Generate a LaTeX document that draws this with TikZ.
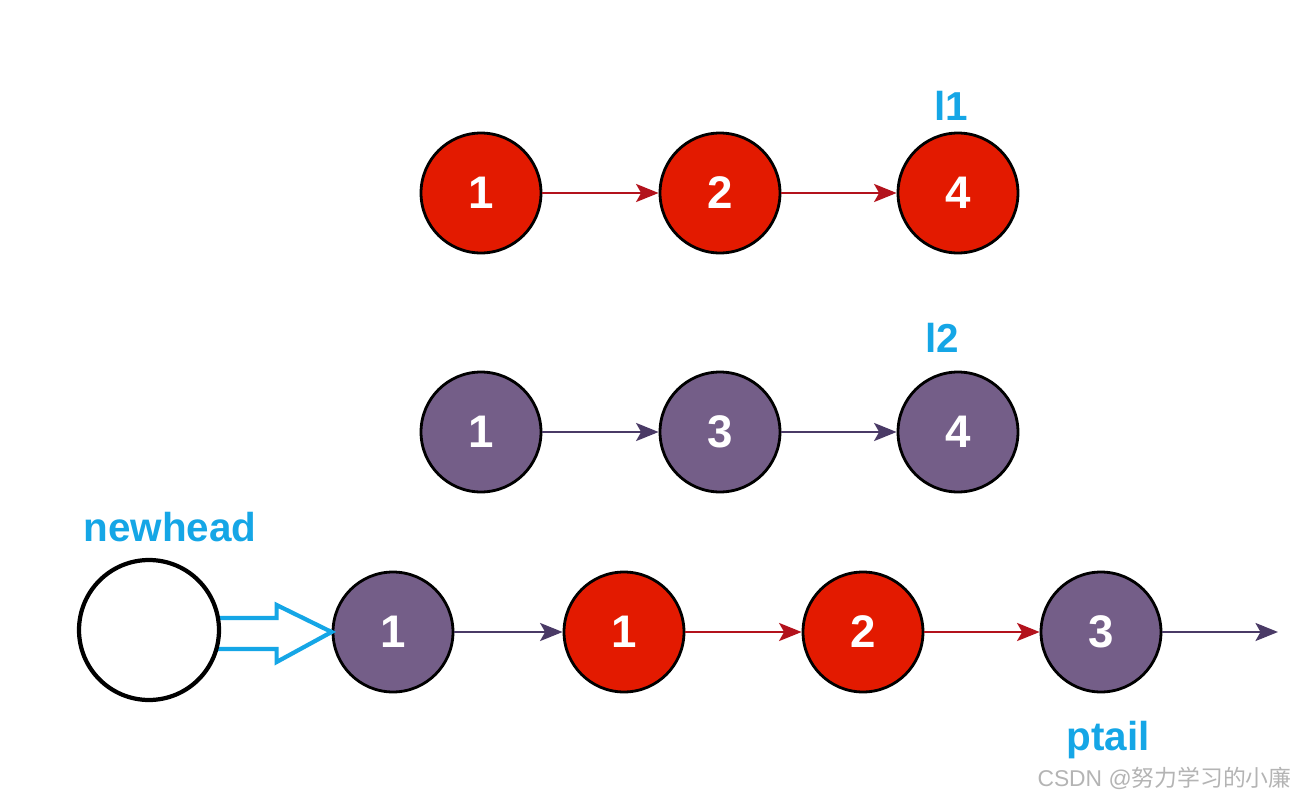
\documentclass[tikz,border=0pt]{standalone}
\usepackage{fontspec}
\setmainfont{Liberation Sans}
\newfontfamily\cjk{Noto Sans CJK SC}
\usetikzlibrary{arrows.meta, calc}
\definecolor{redfill}{HTML}{E31A00}
\definecolor{redline}{HTML}{B3121C}
\definecolor{purfill}{HTML}{745E88}
\definecolor{purline}{HTML}{4A3A66}
\definecolor{tagblue}{HTML}{15A6E6}
\definecolor{markgray}{HTML}{B4B4B4}

\begin{document}
\begin{tikzpicture}[x=0.02cm, y=-0.02cm,
  rnode/.style={circle, draw=black, line width=1.6pt, fill=redfill, minimum size=2.4cm,
                inner sep=0pt, text=white, font=\fontsize{26}{26}\selectfont\bfseries},
  pnode/.style={rnode, fill=purfill},
  empty/.style={circle, draw=black, line width=2.4pt, fill=white, minimum size=2.8cm, inner sep=0pt},
  rarr/.style={draw=redline, line width=1.5pt, -{Stealth[length=4.5mm, width=3.6mm, inset=1mm]}},
  parr/.style={rarr, draw=purline},
  hollow/.style={draw=tagblue, line width=2.4pt, fill=white, line join=miter},
  tag/.style={text=tagblue, font=\fontsize{23}{23}\selectfont\bfseries},
]
\useasboundingbox (0,0) rectangle (1296,801);
% list l1
\node[rnode] (a1) at (481,193) {1};
\node[rnode] (a2) at (720,193) {2};
\node[rnode] (a4) at (958,193) {4};
\draw[rarr] (a1) -- (a2);
\draw[rarr] (a2) -- (a4);
\node[tag] (l1) at (951,106) {l1};
% list l2
\node[pnode] (b1) at (481,432) {1};
\node[pnode] (b3) at (720,432) {3};
\node[pnode] (b4) at (958,432) {4};
\draw[parr] (b1) -- (b3);
\draw[parr] (b3) -- (b4);
\node[tag] (l2) at (942,338) {l2};
% merged list
\node[pnode] (m1) at (393,632) {1};
\node[rnode] (m2) at (624,632) {1};
\node[rnode] (m3) at (863,632) {2};
\node[pnode] (m4) at (1101,632) {3};
\coordinate (mend) at (1278,632);
\draw[parr] (m1) -- (m2);
\draw[rarr] (m2) -- (m3);
\draw[rarr] (m3) -- (m4);
\draw[parr] (m4) -- (mend);
% dummy head and its pointer
\draw[hollow] ($(m1.west)+(-114,-14)$) -- ++(59,0) -- ++(0,-13) -- (m1.west)
  -- ($(m1.west)+(-55,30)$) -- ++(0,-13) -- ++(-59,0);
\node[empty] (newhead) at (149,630) {};
\node[tag] (nh) at (170,527) {newhead};
\node[tag] (pt) at (1108,740) {ptail};
\node[text=markgray, anchor=east, inner sep=0pt, font=\fontsize{13}{13}\selectfont] (wm) at (1292,778) {CSDN @{\cjk 努力学习的小廉}};
\end{tikzpicture}
\end{document}
